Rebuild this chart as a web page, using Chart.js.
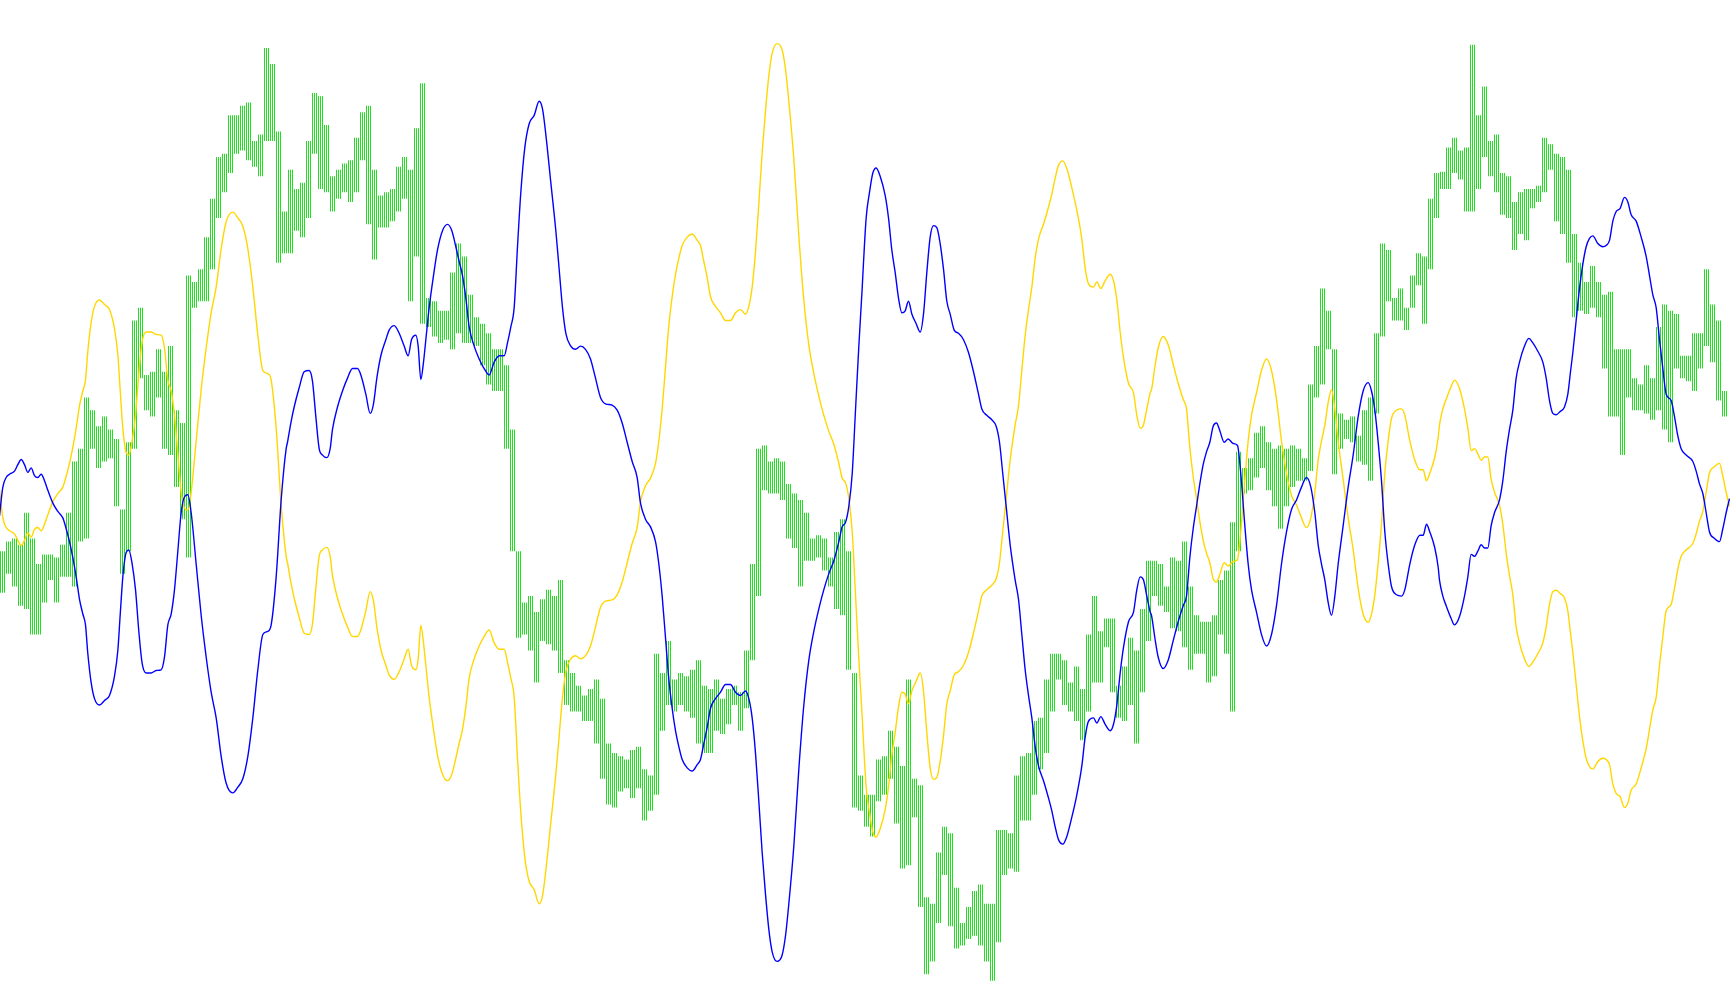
<!DOCTYPE html>
<html>
<head>
<meta charset="utf-8">
<script src="https://cdn.jsdelivr.net/npm/chart.js@4.4.1/dist/chart.umd.min.js"></script>
<style>
html,body{margin:0;padding:0;background:#ffffff;overflow:hidden;}
#wrap{position:absolute;left:0;top:0;width:1730px;height:1005px;}
</style>
</head>
<body>
<div id="wrap"><canvas id="c" width="1730" height="1005"></canvas></div>
<script>
// time axis: 0 .. 5190 ticks; green high-low bars every 18 ticks
const barStep = 18;
const greenHi = [
-76,-61,-56,-66,-16,-56,-96,-81,-81,-86,-66,-16,64,84,164,144,119,134,114,99,-11,94,284,304,199,204,239,204,244,144,124,354,344,364,414,474,539,544,604,604,619,624,564,574,709,684,579,454,
519,489,499,564,639,634,589,509,519,529,534,569,609,619,519,479,484,489,524,539,519,584,654,319,314,299,299,359,404,384,324,289,279,264,239,239,214,114,-76,-156,-146,-171,-151,-136,-146,-121,-246,-266,
-286,-301,-291,-276,-306,-376,-391,-396,-401,-386,-381,-416,-426,-236,-266,-216,-276,-266,-271,-261,-246,-286,-291,-276,-306,-291,-286,-296,-231,-96,84,89,64,69,64,29,14,4,-16,-56,-51,-56,-86,-46,-26,-76,-266,-426,
-456,-456,-401,-396,-356,-381,-411,-276,-431,-441,-616,-626,-546,-506,-516,-601,-656,-631,-606,-596,-626,-626,-511,-511,-516,-426,-396,-391,-341,-336,-276,-236,-236,-246,-281,-256,-291,-206,-146,-201,-181,-181,-286,-256,-211,-231,-166,-91,
-91,-96,-131,-86,-91,-61,-131,-176,-186,-186,-176,-121,-106,-31,79,54,69,109,119,94,84,89,84,89,84,69,184,244,334,299,239,139,129,134,104,144,164,264,404,394,319,334,304,354,389,384,474,514,
516,554,569,549,554,714,604,649,564,574,514,509,469,484,489,489,494,569,559,544,539,519,419,374,344,369,344,324,329,239,239,239,194,184,214,194,274,309,299,294,229,229,264,264,364,309,284,174,164
];
const greenLo = [
-141,-111,-131,-161,-166,-206,-206,-156,-121,-156,-116,-116,-131,-61,-56,84,54,64,69,-6,-111,-76,84,194,144,134,164,84,74,24,-26,-86,304,314,314,364,444,484,514,544,549,534,524,509,564,564,374,389,
389,424,414,444,544,489,484,454,474,484,469,484,534,434,379,429,429,439,454,474,314,384,279,274,259,249,254,239,264,249,249,244,214,184,174,174,84,-76,-211,-206,-231,-281,-216,-221,-231,-266,-316,-326,
-326,-341,-341,-376,-431,-471,-476,-451,-446,-461,-446,-496,-481,-456,-356,-316,-326,-316,-326,-336,-376,-391,-391,-356,-361,-346,-316,-356,-321,-246,-146,19,14,14,4,-56,-71,-131,-91,-91,-86,-106,-131,-166,-176,-261,-476,-481,
-506,-521,-466,-456,-431,-501,-571,-566,-491,-631,-736,-716,-656,-581,-661,-696,-691,-681,-676,-691,-716,-746,-686,-581,-571,-576,-496,-496,-456,-416,-391,-326,-276,-316,-326,-341,-371,-326,-281,-281,-226,-296,-336,-341,-316,-376,-296,-216,
-146,-161,-171,-196,-201,-226,-261,-236,-236,-281,-271,-206,-236,-326,-76,14,19,39,54,19,-6,-41,-6,24,34,34,49,164,184,239,44,84,99,94,64,59,34,139,259,314,284,284,269,304,339,279,364,444,
489,489,514,504,454,454,489,539,509,484,449,444,394,419,409,459,469,484,519,439,419,374,289,299,294,304,289,209,134,134,74,164,144,144,139,129,144,114,94,209,194,189,174,209,244,219,159,134,134
];
const blueSeries = [
[0,-21],[10,24],[20,39],[30,44],[45,49],[55,59],[65,67],[75,59],[85,47],[95,54],[105,42],[115,39],[125,44],[135,34],[145,19],[160,-1],[175,-14],[190,-24],[200,-41],[210,-61],[220,-86],[230,-116],[240,-151],[250,-174],[258,-191],[265,-236],[275,-281],[285,-306],[300,-316],[315,-309],[330,-301],[345,-271],[355,-231],[362,-176],[370,-116],[380,-78],[388,-74],[398,-96],[408,-136],[418,-201],[428,-251],[440,-266],[455,-266],[470,-262],[485,-261],[495,-241],[505,-191],[515,-174],[525,-136],[535,-76],[545,-16],[555,9],[565,12],[575,-16],[590,-96],[605,-176],[620,-241],[635,-296],[650,-336],[665,-396],[680,-438],[700,-453],[715,-444],[730,-431],[745,-396],[760,-336],[775,-261],[790,-206],[805,-201],[815,-191],[830,-116],[845,4],[860,84],
[864,94],[874,124],[884,149],[899,179],[914,204],[929,206],[939,189],[949,134],[959,84],[969,74],[982,70],[992,84],[999,114],[1014,149],[1029,174],[1044,194],[1059,209],[1074,209],[1084,199],[1099,169],[1112,139],[1122,154],[1132,194],[1144,229],[1159,254],[1169,269],[1184,276],[1199,264],[1214,244],[1226,229],[1236,254],[1249,261],[1256,244],[1264,192],[1272,219],[1279,254],[1289,304],[1302,354],[1314,394],[1329,424],[1344,434],[1357,424],[1369,399],[1379,376],[1389,354],[1399,319],[1409,274],[1424,244],[1439,224],[1454,209],[1469,199],[1484,219],[1499,229],[1514,229],[1524,249],[1534,274],[1544,304],[1554,399],[1564,484],[1576,554],[1589,591],[1604,604],[1619,626],[1629,614],[1639,574],[1654,499],[1669,424],[1679,364],[1689,304],[1699,264],[1714,244],
[1728,239],[1743,244],[1758,239],[1773,224],[1788,194],[1803,164],[1818,154],[1838,152],[1853,144],[1868,124],[1883,94],[1898,64],[1913,39],[1923,-1],[1938,-26],[1953,-38],[1968,-61],[1978,-96],[1988,-146],[1998,-211],[2008,-276],[2018,-321],[2028,-356],[2038,-381],[2048,-401],[2063,-414],[2078,-419],[2093,-409],[2103,-401],[2113,-376],[2123,-351],[2133,-321],[2148,-306],[2163,-296],[2178,-284],[2193,-284],[2208,-296],[2223,-301],[2238,-294],[2248,-306],[2258,-336],[2268,-391],[2278,-466],[2288,-546],[2298,-611],[2308,-666],[2318,-701],[2333,-716],[2348,-706],[2358,-676],[2368,-626],[2383,-536],[2398,-416],[2413,-316],[2428,-246],[2443,-201],[2458,-166],[2473,-136],[2488,-111],[2503,-91],[2518,-61],[2528,-38],[2538,-31],[2548,-6],[2558,44],[2568,144],[2578,244],[2588,334],
[2592,374],[2600,444],[2610,484],[2620,514],[2630,522],[2642,509],[2657,479],[2667,444],[2677,394],[2687,359],[2697,319],[2707,296],[2717,299],[2727,314],[2737,294],[2750,279],[2762,266],[2772,294],[2782,359],[2792,414],[2802,432],[2812,429],[2822,404],[2832,364],[2842,314],[2852,294],[2864,269],[2877,264],[2892,254],[2907,234],[2922,204],[2937,169],[2947,146],[2962,136],[2977,129],[2990,119],[3000,94],[3010,44],[3020,-6],[3032,-66],[3047,-121],[3057,-151],[3067,-206],[3077,-261],[3087,-301],[3097,-336],[3107,-381],[3117,-411],[3132,-434],[3147,-461],[3157,-481],[3167,-506],[3177,-526],[3190,-533],[3202,-521],[3217,-491],[3232,-456],[3247,-411],[3257,-366],[3267,-341],[3282,-336],[3292,-344],[3304,-334],[3317,-346],[3332,-356],[3342,-346],[3352,-316],[3362,-266],[3372,-226],[3387,-186],[3402,-171],[3412,-136],[3422,-116],[3432,-121],[3442,-146],[3452,-171],
[3456,-176],[3466,-211],[3476,-241],[3491,-259],[3506,-246],[3521,-216],[3536,-186],[3551,-161],[3561,-146],[3571,-86],[3581,-41],[3591,-6],[3601,29],[3611,59],[3621,79],[3631,94],[3641,119],[3651,124],[3661,112],[3674,94],[3686,99],[3701,92],[3714,89],[3724,44],[3736,-36],[3746,-96],[3756,-136],[3771,-171],[3786,-206],[3801,-224],[3816,-206],[3831,-161],[3846,-96],[3861,-46],[3876,-11],[3891,4],[3906,24],[3921,39],[3934,24],[3946,-16],[3956,-66],[3966,-96],[3976,-121],[3986,-156],[3996,-176],[4006,-146],[4016,-96],[4031,-36],[4046,24],[4061,74],[4076,134],[4091,174],[4106,187],[4116,174],[4126,144],[4136,94],[4146,34],[4156,-46],[4166,-96],[4176,-131],[4191,-144],[4206,-146],[4216,-136],[4231,-96],[4246,-66],[4261,-51],[4271,-51],[4281,-34],[4291,-46],[4306,-71],[4316,-101],
[4320,-121],[4330,-146],[4340,-161],[4355,-181],[4365,-191],[4380,-178],[4395,-146],[4405,-116],[4415,-81],[4425,-84],[4435,-76],[4445,-66],[4455,-71],[4465,-71],[4475,-36],[4485,-16],[4500,4],[4510,34],[4520,79],[4530,114],[4540,144],[4550,194],[4560,219],[4575,244],[4588,256],[4600,249],[4615,236],[4630,219],[4640,194],[4650,159],[4660,139],[4670,137],[4682,142],[4695,149],[4705,169],[4713,204],[4720,234],[4730,284],[4740,334],[4750,372],[4760,399],[4770,412],[4780,416],[4795,404],[4810,399],[4820,401],[4830,409],[4840,439],[4850,454],[4862,459],[4875,476],[4885,469],[4895,449],[4910,439],[4925,414],[4940,384],[4950,354],[4960,324],[4970,304],[4980,254],[4990,209],[5000,169],[5015,159],[5025,134],[5035,104],[5045,84],[5060,74],[5080,64],[5090,49],[5100,29],[5110,14],[5120,-16],[5130,-46],[5145,-56],[5160,-61],[5170,-41],[5180,-16],[5190,6]
];
const yellowSeries = [
[0,21],[10,-24],[20,-39],[30,-44],[45,-49],[55,-59],[65,-67],[75,-59],[85,-47],[95,-54],[105,-42],[115,-39],[125,-44],[135,-34],[145,-19],[160,1],[175,14],[190,24],[200,41],[210,61],[220,86],[230,116],[240,151],[250,174],[258,191],[265,236],[275,281],[285,306],[300,316],[315,309],[330,301],[345,271],[355,231],[362,176],[370,116],[380,78],[388,74],[398,96],[408,136],[418,201],[428,251],[440,266],[455,266],[470,262],[485,261],[495,241],[505,191],[515,174],[525,136],[535,76],[545,16],[555,-9],[565,-12],[575,16],[590,96],[605,176],[620,241],[635,296],[650,336],[665,396],[680,438],[700,453],[715,444],[730,431],[745,396],[760,336],[775,261],[790,206],[805,201],[815,191],[830,116],[845,-4],[860,-84],
[864,-94],[874,-124],[884,-149],[899,-179],[914,-204],[929,-206],[939,-189],[949,-134],[959,-84],[969,-74],[982,-70],[992,-84],[999,-114],[1014,-149],[1029,-174],[1044,-194],[1059,-209],[1074,-209],[1084,-199],[1099,-169],[1112,-139],[1122,-154],[1132,-194],[1144,-229],[1159,-254],[1169,-269],[1184,-276],[1199,-264],[1214,-244],[1226,-229],[1236,-254],[1249,-261],[1256,-244],[1264,-192],[1272,-219],[1279,-254],[1289,-304],[1302,-354],[1314,-394],[1329,-424],[1344,-434],[1357,-424],[1369,-399],[1379,-376],[1389,-354],[1399,-319],[1409,-274],[1424,-244],[1439,-224],[1454,-209],[1469,-199],[1484,-219],[1499,-229],[1514,-229],[1524,-249],[1534,-274],[1544,-304],[1554,-399],[1564,-484],[1576,-554],[1589,-591],[1604,-604],[1619,-626],[1629,-614],[1639,-574],[1654,-499],[1669,-424],[1679,-364],[1689,-304],[1699,-264],[1714,-244],
[1728,-239],[1743,-244],[1758,-239],[1773,-224],[1788,-194],[1803,-164],[1818,-154],[1838,-152],[1853,-144],[1868,-124],[1883,-94],[1898,-64],[1913,-39],[1923,1],[1938,26],[1953,38],[1968,61],[1978,96],[1988,146],[1998,211],[2008,276],[2018,321],[2028,356],[2038,381],[2048,401],[2063,414],[2078,419],[2093,409],[2103,401],[2113,376],[2123,351],[2133,321],[2148,306],[2163,296],[2178,284],[2193,284],[2208,296],[2223,301],[2238,294],[2248,306],[2258,336],[2268,391],[2278,466],[2288,546],[2298,611],[2308,666],[2318,701],[2333,716],[2348,706],[2358,676],[2368,626],[2383,536],[2398,416],[2413,316],[2428,246],[2443,201],[2458,166],[2473,136],[2488,111],[2503,91],[2518,61],[2528,38],[2538,31],[2548,6],[2558,-44],[2568,-144],[2578,-244],[2588,-334],
[2592,-374],[2600,-444],[2610,-484],[2620,-514],[2630,-522],[2642,-509],[2657,-479],[2667,-444],[2677,-394],[2687,-359],[2697,-319],[2707,-296],[2717,-299],[2727,-314],[2737,-294],[2750,-279],[2762,-266],[2772,-294],[2782,-359],[2792,-414],[2802,-432],[2812,-429],[2822,-404],[2832,-364],[2842,-314],[2852,-294],[2864,-269],[2877,-264],[2892,-254],[2907,-234],[2922,-204],[2937,-169],[2947,-146],[2962,-136],[2977,-129],[2990,-119],[3000,-94],[3010,-44],[3020,6],[3032,66],[3047,121],[3057,151],[3067,206],[3077,261],[3087,301],[3097,336],[3107,381],[3117,411],[3132,434],[3147,461],[3157,481],[3167,506],[3177,526],[3190,533],[3202,521],[3217,491],[3232,456],[3247,411],[3257,366],[3267,341],[3282,336],[3292,344],[3304,334],[3317,346],[3332,356],[3342,346],[3352,316],[3362,266],[3372,226],[3387,186],[3402,171],[3412,136],[3422,116],[3432,121],[3442,146],[3452,171],
[3456,176],[3466,211],[3476,241],[3491,259],[3506,246],[3521,216],[3536,186],[3551,161],[3561,146],[3571,86],[3581,41],[3591,6],[3601,-29],[3611,-59],[3621,-79],[3631,-94],[3641,-119],[3651,-124],[3661,-112],[3674,-94],[3686,-99],[3701,-92],[3714,-89],[3724,-44],[3736,36],[3746,96],[3756,136],[3771,171],[3786,206],[3801,224],[3816,206],[3831,161],[3846,96],[3861,46],[3876,11],[3891,-4],[3906,-24],[3921,-39],[3934,-24],[3946,16],[3956,66],[3966,96],[3976,121],[3986,156],[3996,176],[4006,146],[4016,96],[4031,36],[4046,-24],[4061,-74],[4076,-134],[4091,-174],[4106,-187],[4116,-174],[4126,-144],[4136,-94],[4146,-34],[4156,46],[4166,96],[4176,131],[4191,144],[4206,146],[4216,136],[4231,96],[4246,66],[4261,51],[4271,51],[4281,34],[4291,46],[4306,71],[4316,101],
[4320,121],[4330,146],[4340,161],[4355,181],[4365,191],[4380,178],[4395,146],[4405,116],[4415,81],[4425,84],[4435,76],[4445,66],[4455,71],[4465,71],[4475,36],[4485,16],[4500,-4],[4510,-34],[4520,-79],[4530,-114],[4540,-144],[4550,-194],[4560,-219],[4575,-244],[4588,-256],[4600,-249],[4615,-236],[4630,-219],[4640,-194],[4650,-159],[4660,-139],[4670,-137],[4682,-142],[4695,-149],[4705,-169],[4713,-204],[4720,-234],[4730,-284],[4740,-334],[4750,-372],[4760,-399],[4770,-412],[4780,-416],[4795,-404],[4810,-399],[4820,-401],[4830,-409],[4840,-439],[4850,-454],[4862,-459],[4875,-476],[4885,-469],[4895,-449],[4910,-439],[4925,-414],[4940,-384],[4950,-354],[4960,-324],[4970,-304],[4980,-254],[4990,-209],[5000,-169],[5015,-159],[5025,-134],[5035,-104],[5045,-84],[5060,-74],[5080,-64],[5090,-49],[5100,-29],[5110,-14],[5120,16],[5130,46],[5145,56],[5160,61],[5170,41],[5180,16],[5190,-6]
];

// build green high-low segments (vertical strokes separated by gaps)
const greenData = [];
for (let i = 0; i < greenHi.length; i++) {
  const t = barStep * i + barStep / 2;
  greenData.push({x: t, y: greenLo[i]});
  greenData.push({x: t, y: greenHi[i]});
  greenData.push({x: t, y: null});
}
const toXY = s => s.map(p => ({x: p[0], y: p[1]}));

const canvas = document.getElementById('c');
const ctx = canvas.getContext('2d');
// thin vertical hatch so each high-low stroke reads as fine 1px lines
const pc = document.createElement('canvas');
pc.width = 2; pc.height = 1;
const pctx = pc.getContext('2d');
pctx.fillStyle = '#22dd22';
pctx.fillRect(0, 0, 1, 1);
const greenPattern = ctx.createPattern(pc, 'repeat');

new Chart(canvas, {
  type: 'line',
  data: {
    datasets: [
      {data: greenData, borderColor: greenPattern, borderWidth: 5, borderCapStyle: 'butt', pointRadius: 0, spanGaps: false, tension: 0, order: 3},
      {data: toXY(yellowSeries), borderColor: '#ffd700', borderWidth: 1.4, pointRadius: 0, cubicInterpolationMode: 'monotone', order: 2},
      {data: toXY(blueSeries), borderColor: '#0000ff', borderWidth: 1.4, pointRadius: 0, cubicInterpolationMode: 'monotone', order: 1}
    ]
  },
  options: {
    responsive: false,
    animation: false,
    devicePixelRatio: 1,
    layout: {padding: 0},
    plugins: {legend: {display: false}, tooltip: {enabled: false}, title: {display: false}},
    events: [],
    scales: {
      x: {type: 'linear', display: false, min: 1.5, max: 5191.5},
      y: {type: 'linear', display: false, min: -784, max: 784}
    }
  }
});
</script>
</body>
</html>
